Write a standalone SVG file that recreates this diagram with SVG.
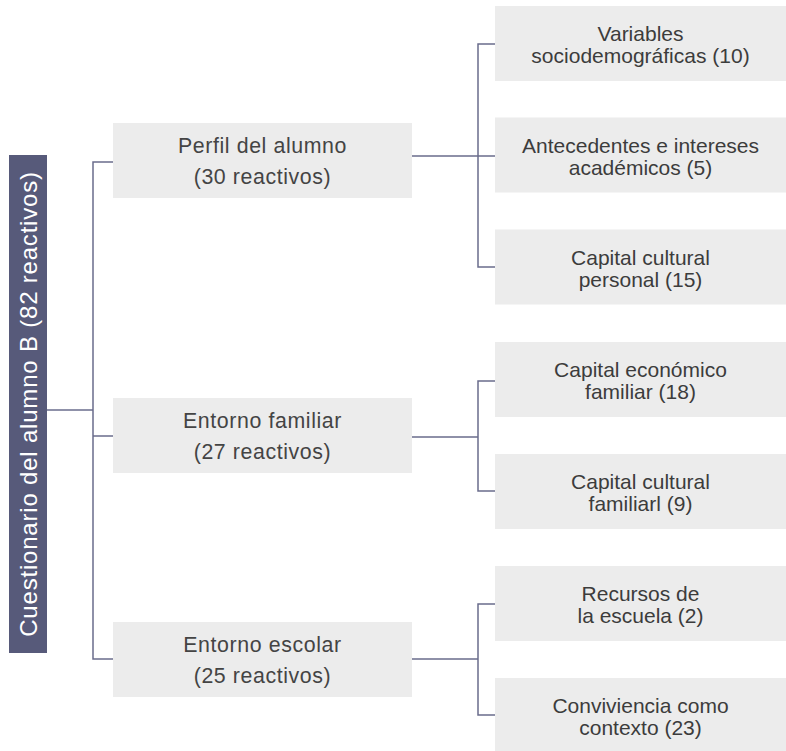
<svg xmlns="http://www.w3.org/2000/svg" width="786" height="751" viewBox="0 0 786 751">
<style>
.box{fill:#ececec}
.root{fill:#575a7a}
.t1{font-family:"Liberation Sans",Arial,sans-serif;font-size:21.33px;letter-spacing:0.6px;fill:#444;text-anchor:middle}
.t2{font-family:"Liberation Sans",Arial,sans-serif;font-size:21px;fill:#3c3c3c;text-anchor:middle}
.rt{font-family:"Liberation Sans",Arial,sans-serif;font-size:24px;letter-spacing:0.8px;fill:#ffffff;text-anchor:middle}
.c{fill:none;stroke:#6a6c8c;stroke-width:1.5}
</style>
<g id="connectors">
<path class="c" d="M47,410H93"/>
<path class="c" d="M113,162H93V659H113M93,436H113"/>
<path class="c" d="M412,156H478M495,44H478V267H495M478,156H495"/>
<path class="c" d="M412,437H478M495,381H478V491H495"/>
<path class="c" d="M412,659H478M495,604H478V715H495"/>
</g>
<g id="root">
<rect class="root" x="9" y="155" width="38" height="498"/>
<text class="rt" transform="translate(36.5,404) rotate(-90)">Cuestionario del alumno B (82 reactivos)</text>
</g>
<g id="perfil">
<rect class="box" x="113" y="123" width="299" height="75"/>
<text class="t1" x="262.5" y="152.5">Perfil del alumno</text>
<text class="t1" x="262.5" y="183.5">(30 reactivos)</text>
</g>
<g id="familiar">
<rect class="box" x="113" y="398" width="299" height="75"/>
<text class="t1" x="262.5" y="427.5">Entorno familiar</text>
<text class="t1" x="262.5" y="458.5">(27 reactivos)</text>
</g>
<g id="escolar">
<rect class="box" x="113" y="622" width="299" height="75"/>
<text class="t1" x="262.5" y="651.5">Entorno escolar</text>
<text class="t1" x="262.5" y="682.5">(25 reactivos)</text>
</g>
<g id="socio">
<rect class="box" x="495" y="6" width="291" height="75"/>
<text class="t2" x="640.5" y="41">Variables</text>
<text class="t2" x="640.5" y="63">sociodemográficas (10)</text>
</g>
<g id="antecedentes">
<rect class="box" x="495" y="117.5" width="291" height="75"/>
<text class="t2" x="640.5" y="152.5">Antecedentes e intereses</text>
<text class="t2" x="640.5" y="174.5">académicos (5)</text>
</g>
<g id="capitalpersonal">
<rect class="box" x="495" y="229.5" width="291" height="75"/>
<text class="t2" x="640.5" y="264.5">Capital cultural</text>
<text class="t2" x="640.5" y="286.5">personal (15)</text>
</g>
<g id="economico">
<rect class="box" x="495" y="342" width="291" height="75"/>
<text class="t2" x="640.5" y="377">Capital económico</text>
<text class="t2" x="640.5" y="399">familiar (18)</text>
</g>
<g id="culturalfamiliar">
<rect class="box" x="495" y="454" width="291" height="75"/>
<text class="t2" x="640.5" y="489">Capital cultural</text>
<text class="t2" x="640.5" y="511">familiarl (9)</text>
</g>
<g id="recursos">
<rect class="box" x="495" y="566" width="291" height="75"/>
<text class="t2" x="640.5" y="601">Recursos de</text>
<text class="t2" x="640.5" y="623">la escuela (2)</text>
</g>
<g id="convivencia">
<rect class="box" x="495" y="678" width="291" height="75"/>
<text class="t2" x="640.5" y="713">Conviviencia como</text>
<text class="t2" x="640.5" y="735">contexto (23)</text>
</g>
</svg>
